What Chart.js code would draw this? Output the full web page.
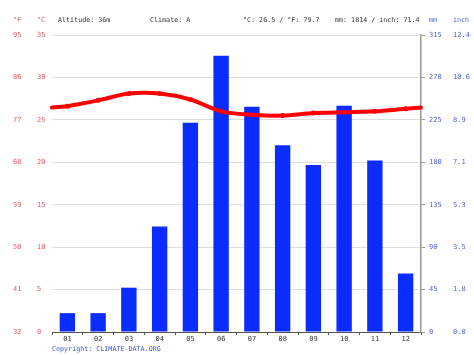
<!DOCTYPE html>
<html>
<head>
<meta charset="utf-8">
<script src="https://cdn.jsdelivr.net/npm/chart.js@4/dist/chart.umd.min.js"></script>
<style>
html,body{margin:0;padding:0;background:#fff;}
#wrap{width:474px;height:355px;position:relative;}
</style>
</head>
<body>
<div id="wrap"><canvas id="c" width="474" height="355"></canvas></div>
<script>
// ---- data ----
const months = ['01','02','03','04','05','06','07','08','09','10','11','12'];
const precipitationMm = [20, 20, 47, 112, 222, 293, 239, 198, 177, 240, 182, 62];
const temperatureC = [26.6, 27.3, 28.1, 28.1, 27.4, 26.0, 25.6, 25.5, 25.8, 25.9, 26.0, 26.3];
const celsiusTicks = [0, 5, 10, 15, 20, 25, 30, 35];
const fahrenheitTicks = ['32', '41', '50', '59', '68', '77', '86', '95'];
const mmTicks = [0, 45, 90, 135, 180, 225, 270, 315];
const inchTicks = ['0.0', '1.8', '3.5', '5.3', '7.1', '8.9', '10.6', '12.4'];
const headerTexts = ['Altitude: 36m', 'Climate: A', '°C: 26.5 / °F: 79.7', 'mm: 1814 / inch: 71.4'];
const copyrightText = 'Copyright: CLIMATE-DATA.ORG';

const MONO = '"DejaVu Sans Mono", "Liberation Mono", monospace';
const RED_T = '#e25c5c';
const BLUE_T = '#4f63d6';

const fixW = w => (s) => { s.width = w; };

const extraPlugin = {
  id: 'extras',
  afterDatasetsDraw(chart) {
    // wrap-around line ends (year continues Dec -> Jan)
    const ctx = chart.ctx;
    const meta = chart.getDatasetMeta(1);
    const ys = chart.scales.yC;
    const a = chart.chartArea;
    const edgeVal = (temperatureC[0] + temperatureC[temperatureC.length - 1]) / 2;
    const ye = ys.getPixelForValue(edgeVal);
    const p0 = meta.data[0], pn = meta.data[meta.data.length - 1];
    ctx.save();
    ctx.strokeStyle = '#ff0000';
    ctx.lineWidth = 4;
    ctx.lineCap = 'round';
    ctx.beginPath();
    ctx.moveTo(a.left, ye); ctx.lineTo(p0.x, p0.y);
    ctx.moveTo(pn.x, pn.y); ctx.lineTo(a.right, ye);
    ctx.stroke();
    ctx.restore();
  },
  afterDraw(chart) {
    const ctx = chart.ctx;
    ctx.save();
    ctx.font = '6.7px ' + MONO;
    ctx.textBaseline = 'middle';
    ctx.textAlign = 'left';
    const y = 20;
    ctx.fillStyle = RED_T;
    ctx.fillText('°F', 13, y);
    ctx.fillText('°C', 37, y);
    ctx.fillStyle = '#333';
    const hx = [58, 150, 243, 335];
    headerTexts.forEach((t, i) => ctx.fillText(t, hx[i], y));
    ctx.fillStyle = BLUE_T;
    ctx.fillText('mm', 429, y);
    ctx.fillText('inch', 453, y);
    ctx.fillStyle = '#3a55cc';
    ctx.fillText(copyrightText, 52, 349);
    ctx.restore();
  }
};

new Chart(document.getElementById('c'), {
  data: {
    labels: months,
    datasets: [
      {
        type: 'bar',
        label: 'Precipitation (mm)',
        data: precipitationMm,
        backgroundColor: '#0a2cff',
        borderWidth: 0,
        barPercentage: 0.5,
        categoryPercentage: 1,
        yAxisID: 'mm',
        order: 1
      },
      {
        type: 'line',
        label: 'Temperature (°C)',
        data: temperatureC,
        borderColor: '#ff0000',
        backgroundColor: '#ff0000',
        borderWidth: 4,
        pointRadius: 2.5,
        pointBorderWidth: 0,
        pointBackgroundColor: '#ff0000',
        tension: 0.3,
        yAxisID: 'yC',
        order: 0,
        clip: false
      }
    ]
  },
  options: {
    responsive: false,
    animation: false,
    devicePixelRatio: 1,
    layout: { padding: { left: 13, right: 0, top: 35, bottom: 0 } },
    plugins: { legend: { display: false }, tooltip: { enabled: false }, title: { display: false } },
    scales: {
      x: {
        type: 'category',
        position: 'bottom',
        offset: true,
        grid: { display: true, drawOnChartArea: false, drawTicks: true, tickLength: 3, color: '#555', offset: true },
        border: { display: true, color: '#555', width: 1 },
        ticks: { color: '#333', font: { family: MONO, size: 7 }, padding: 0, maxRotation: 0, autoSkip: false },
        afterFit: (s) => { s.height = 23; }
      },
      yC: {
        type: 'linear',
        position: 'left',
        weight: 0,
        min: 0, max: 35,
        afterBuildTicks: (s) => { s.ticks = celsiusTicks.map(v => ({ value: v })); },
        ticks: { color: RED_T, font: { family: MONO, size: 7 }, crossAlign: 'far', padding: 0 },
        grid: { color: '#dedede', lineWidth: 1, drawTicks: false },
        border: { display: false },
        afterFit: fixW(15)
      },
      yF: {
        type: 'linear',
        position: 'left',
        weight: 1,
        min: 0, max: 35,
        afterBuildTicks: (s) => { s.ticks = celsiusTicks.map(v => ({ value: v })); },
        ticks: { color: RED_T, font: { family: MONO, size: 7 }, crossAlign: 'far', padding: 0,
                 callback: (v, i) => fahrenheitTicks[i] },
        grid: { display: false, drawTicks: false },
        border: { display: false },
        afterFit: fixW(24)
      },
      mm: {
        type: 'linear',
        position: 'right',
        weight: 0,
        min: 0, max: 315,
        afterBuildTicks: (s) => { s.ticks = mmTicks.map(v => ({ value: v })); },
        ticks: { color: BLUE_T, font: { family: MONO, size: 7 }, crossAlign: 'near', padding: 4 },
        grid: { drawOnChartArea: false, drawTicks: true, tickLength: 4, color: '#999' },
        border: { display: true, color: '#999', width: 1.5 },
        afterFit: fixW(28)
      },
      inch: {
        type: 'linear',
        position: 'right',
        weight: 1,
        min: 0, max: 315,
        afterBuildTicks: (s) => { s.ticks = mmTicks.map(v => ({ value: v })); },
        ticks: { color: BLUE_T, font: { family: MONO, size: 7 }, crossAlign: 'near', padding: 4,
                 callback: (v, i) => inchTicks[i] },
        grid: { display: false, drawTicks: false },
        border: { display: false },
        afterFit: fixW(25)
      }
    }
  },
  plugins: [extraPlugin]
});
</script>
</body>
</html>
